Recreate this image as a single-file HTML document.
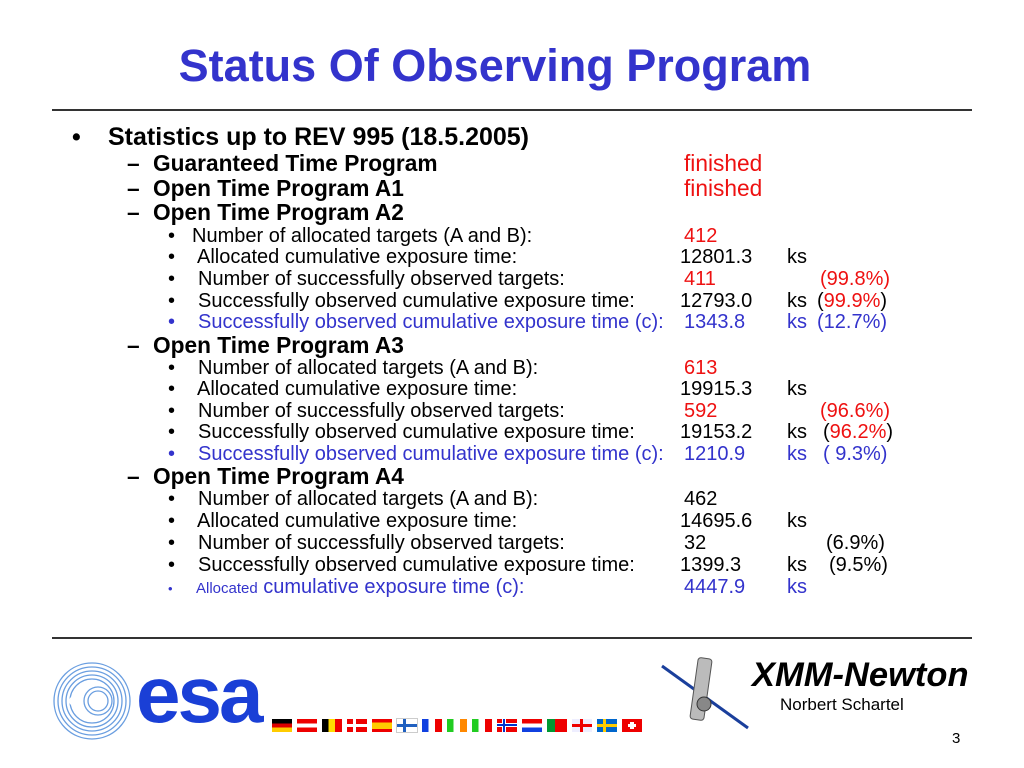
<!DOCTYPE html>
<html><head><meta charset="utf-8"><style>
body{margin:0;width:1024px;height:768px;background:#fff;position:relative;font-family:"Liberation Sans",sans-serif;overflow:hidden}
.a{position:absolute;white-space:nowrap;line-height:1}
.t{left:0;width:990px;text-align:center;top:43px;font-size:45px;font-weight:bold;color:#3333cc}
.hr{position:absolute;left:52px;width:920px;height:2px;background:#333}
.l1{font-size:25px;font-weight:bold}
.l2{font-size:22.7px;font-weight:bold}
.l3{font-size:20px}
.r{color:#ee1111}.b{color:#3333cc}
.flag{position:absolute;top:719px;width:20px;height:13px}
</style></head><body>
<div class="a t">Status Of Observing Program</div>
<div class="hr" style="top:109px"></div>
<div class="hr" style="top:637px"></div>

<div>
<div class="a l1" style="left:72px;top:125px">•</div>
<div class="a l1" style="left:108px;top:125px">Statistics up to REV 995 (18.5.2005)</div>

<div class="a l2" style="left:127px;top:152px">–</div><div class="a l2" style="left:153px;top:152px">Guaranteed Time Program</div><div class="a l2 r" style="left:684px;top:152px;font-weight:normal">finished</div>
<div class="a l2" style="left:127px;top:177px">–</div><div class="a l2" style="left:153px;top:177px">Open Time Program A1</div><div class="a l2 r" style="left:684px;top:177px;font-weight:normal">finished</div>
<div class="a l2" style="left:127px;top:201px">–</div><div class="a l2" style="left:153px;top:201px">Open Time Program A2</div>

<div class="a l3" style="left:168px;top:226px">•</div><div class="a l3" style="left:192px;top:226px">Number of allocated targets (A and B):</div><div class="a l3 r" style="left:684px;top:226px">412</div>
<div class="a l3" style="left:168px;top:247px">•</div><div class="a l3" style="left:197px;top:247px">Allocated cumulative exposure time:</div><div class="a l3" style="left:680px;top:247px">12801.3</div><div class="a l3" style="left:787px;top:247px">ks</div>
<div class="a l3" style="left:168px;top:269px">•</div><div class="a l3" style="left:198px;top:269px">Number of successfully observed targets:</div><div class="a l3 r" style="left:684px;top:269px">411</div><div class="a l3 r" style="left:820px;top:269px">(99.8%)</div>
<div class="a l3" style="left:168px;top:291px">•</div><div class="a l3" style="left:198px;top:291px">Successfully observed cumulative exposure time:</div><div class="a l3" style="left:680px;top:291px">12793.0</div><div class="a l3" style="left:787px;top:291px">ks</div><div class="a l3" style="left:817px;top:291px">(<span class="r">99.9%</span>)</div>
<div class="a l3 b" style="left:168px;top:312px">•</div><div class="a l3 b" style="left:198px;top:312px">Successfully observed cumulative exposure time (c):</div><div class="a l3 b" style="left:684px;top:312px">1343.8</div><div class="a l3 b" style="left:787px;top:312px">ks</div><div class="a l3 b" style="left:817px;top:312px">(12.7%)</div>

<div class="a l2" style="left:127px;top:334px">–</div><div class="a l2" style="left:153px;top:334px">Open Time Program A3</div>
<div class="a l3" style="left:168px;top:358px">•</div><div class="a l3" style="left:198px;top:358px">Number of allocated targets (A and B):</div><div class="a l3 r" style="left:684px;top:358px">613</div>
<div class="a l3" style="left:168px;top:379px">•</div><div class="a l3" style="left:197px;top:379px">Allocated cumulative exposure time:</div><div class="a l3" style="left:680px;top:379px">19915.3</div><div class="a l3" style="left:787px;top:379px">ks</div>
<div class="a l3" style="left:168px;top:401px">•</div><div class="a l3" style="left:198px;top:401px">Number of successfully observed targets:</div><div class="a l3 r" style="left:684px;top:401px">592</div><div class="a l3 r" style="left:820px;top:401px">(96.6%)</div>
<div class="a l3" style="left:168px;top:422px">•</div><div class="a l3" style="left:198px;top:422px">Successfully observed cumulative exposure time:</div><div class="a l3" style="left:680px;top:422px">19153.2</div><div class="a l3" style="left:787px;top:422px">ks</div><div class="a l3" style="left:823px;top:422px">(<span class="r">96.2%</span>)</div>
<div class="a l3 b" style="left:168px;top:444px">•</div><div class="a l3 b" style="left:198px;top:444px">Successfully observed cumulative exposure time (c):</div><div class="a l3 b" style="left:684px;top:444px">1210.9</div><div class="a l3 b" style="left:787px;top:444px">ks</div><div class="a l3 b" style="left:823px;top:444px">( 9.3%)</div>

<div class="a l2" style="left:127px;top:465px">–</div><div class="a l2" style="left:153px;top:465px">Open Time Program A4</div>
<div class="a l3" style="left:168px;top:489px">•</div><div class="a l3" style="left:198px;top:489px">Number of allocated targets (A and B):</div><div class="a l3" style="left:684px;top:489px">462</div>
<div class="a l3" style="left:168px;top:511px">•</div><div class="a l3" style="left:197px;top:511px">Allocated cumulative exposure time:</div><div class="a l3" style="left:680px;top:511px">14695.6</div><div class="a l3" style="left:787px;top:511px">ks</div>
<div class="a l3" style="left:168px;top:533px">•</div><div class="a l3" style="left:198px;top:533px">Number of successfully observed targets:</div><div class="a l3" style="left:684px;top:533px">32</div><div class="a l3" style="left:826px;top:533px">(6.9%)</div>
<div class="a l3" style="left:168px;top:555px">•</div><div class="a l3" style="left:198px;top:555px">Successfully observed cumulative exposure time:</div><div class="a l3" style="left:680px;top:555px">1399.3</div><div class="a l3" style="left:787px;top:555px">ks</div><div class="a l3" style="left:829px;top:555px">(9.5%)</div>
<div class="a l3 b" style="left:168px;top:577px"><span style="font-size:13px">•</span></div><div class="a l3 b" style="left:196px;top:577px"><span style="font-size:15px">Allocated</span> cumulative exposure time (c):</div><div class="a l3 b" style="left:684px;top:577px">4447.9</div><div class="a l3 b" style="left:787px;top:577px">ks</div>
</div>

<svg style="position:absolute;left:52px;top:658px" width="80" height="86">
<g fill="none" stroke="#6a9ee0" stroke-width="1.3">
<circle cx="40" cy="43" r="38"/><circle cx="40" cy="43" r="34"/><circle cx="40" cy="43" r="30"/><circle cx="40" cy="43" r="26"/><circle cx="40" cy="43" r="22"/>
<circle cx="46" cy="43" r="14"/><circle cx="46" cy="43" r="10"/></g>
<circle cx="22" cy="43" r="5" fill="#fff"/>
</svg>
<div class="a" style="left:136px;top:655px;font-size:80px;font-weight:bold;color:#1a3fd6;letter-spacing:-3px">esa</div>

<div>
<div class="flag" style="left:272px;background:linear-gradient(#000 33%,#d00 33% 66%,#fc0 66%)"></div>
<div class="flag" style="left:297px;background:linear-gradient(#e00 33%,#fff 33% 66%,#e00 66%)"></div>
<div class="flag" style="left:322px;background:linear-gradient(90deg,#000 33%,#fd0 33% 66%,#e00 66%)"></div>
<div class="flag" style="left:347px;background:#e00"><div style="position:absolute;left:6px;top:0;width:3px;height:13px;background:#fff"></div><div style="position:absolute;left:0;top:5px;width:20px;height:3px;background:#fff"></div></div>
<div class="flag" style="left:372px;background:linear-gradient(#e00 25%,#fc0 25% 75%,#e00 75%)"></div>
<div class="flag" style="left:397px;background:#fff;outline:1px solid #ccc"><div style="position:absolute;left:6px;top:0;width:3px;height:13px;background:#2060c0"></div><div style="position:absolute;left:0;top:5px;width:20px;height:3px;background:#2060c0"></div></div>
<div class="flag" style="left:422px;background:linear-gradient(90deg,#1040e0 33%,#fff 33% 66%,#e00 66%)"></div>
<div class="flag" style="left:447px;background:linear-gradient(90deg,#2c2 33%,#fff 33% 66%,#f80 66%)"></div>
<div class="flag" style="left:472px;background:linear-gradient(90deg,#2c2 33%,#fff 33% 66%,#e00 66%)"></div>
<div class="flag" style="left:497px;background:#e00"><div style="position:absolute;left:5px;top:0;width:4px;height:13px;background:#fff"></div><div style="position:absolute;left:0;top:4px;width:20px;height:4px;background:#fff"></div><div style="position:absolute;left:6px;top:0;width:2px;height:13px;background:#03c"></div><div style="position:absolute;left:0;top:5px;width:20px;height:2px;background:#03c"></div></div>
<div class="flag" style="left:522px;background:linear-gradient(#e00 33%,#fff 33% 66%,#1040e0 66%)"></div>
<div class="flag" style="left:547px;background:linear-gradient(90deg,#093 40%,#e00 40%)"></div>
<div class="flag" style="left:572px;background:#eef"><div style="position:absolute;left:0;top:5px;width:20px;height:3px;background:#e00"></div><div style="position:absolute;left:8px;top:0;width:3px;height:13px;background:#e00"></div></div>
<div class="flag" style="left:597px;background:#06c"><div style="position:absolute;left:6px;top:0;width:3px;height:13px;background:#fc0"></div><div style="position:absolute;left:0;top:5px;width:20px;height:3px;background:#fc0"></div></div>
<div class="flag" style="left:622px;background:#e00"><div style="position:absolute;left:8px;top:3px;width:4px;height:7px;background:#fff"></div><div style="position:absolute;left:6px;top:5px;width:8px;height:3px;background:#fff"></div></div>
</div>

<svg style="position:absolute;left:660px;top:656px" width="92" height="76">
<line x1="2" y1="10" x2="88" y2="72" stroke="#1a3f9c" stroke-width="3"/>
<rect x="34" y="2" width="14" height="62" rx="3" fill="#bbb" stroke="#555" transform="rotate(8 41 33)"/>
<circle cx="44" cy="48" r="7" fill="#888" stroke="#333"/>
</svg>
<div class="a" style="left:752px;top:658px;font-size:34.5px;font-weight:bold;font-style:italic">XMM-Newton</div>
<div class="a" style="left:780px;top:696px;font-size:17px">Norbert Schartel</div>
<div class="a" style="left:952px;top:731px;font-size:15px">3</div>
</body></html>
